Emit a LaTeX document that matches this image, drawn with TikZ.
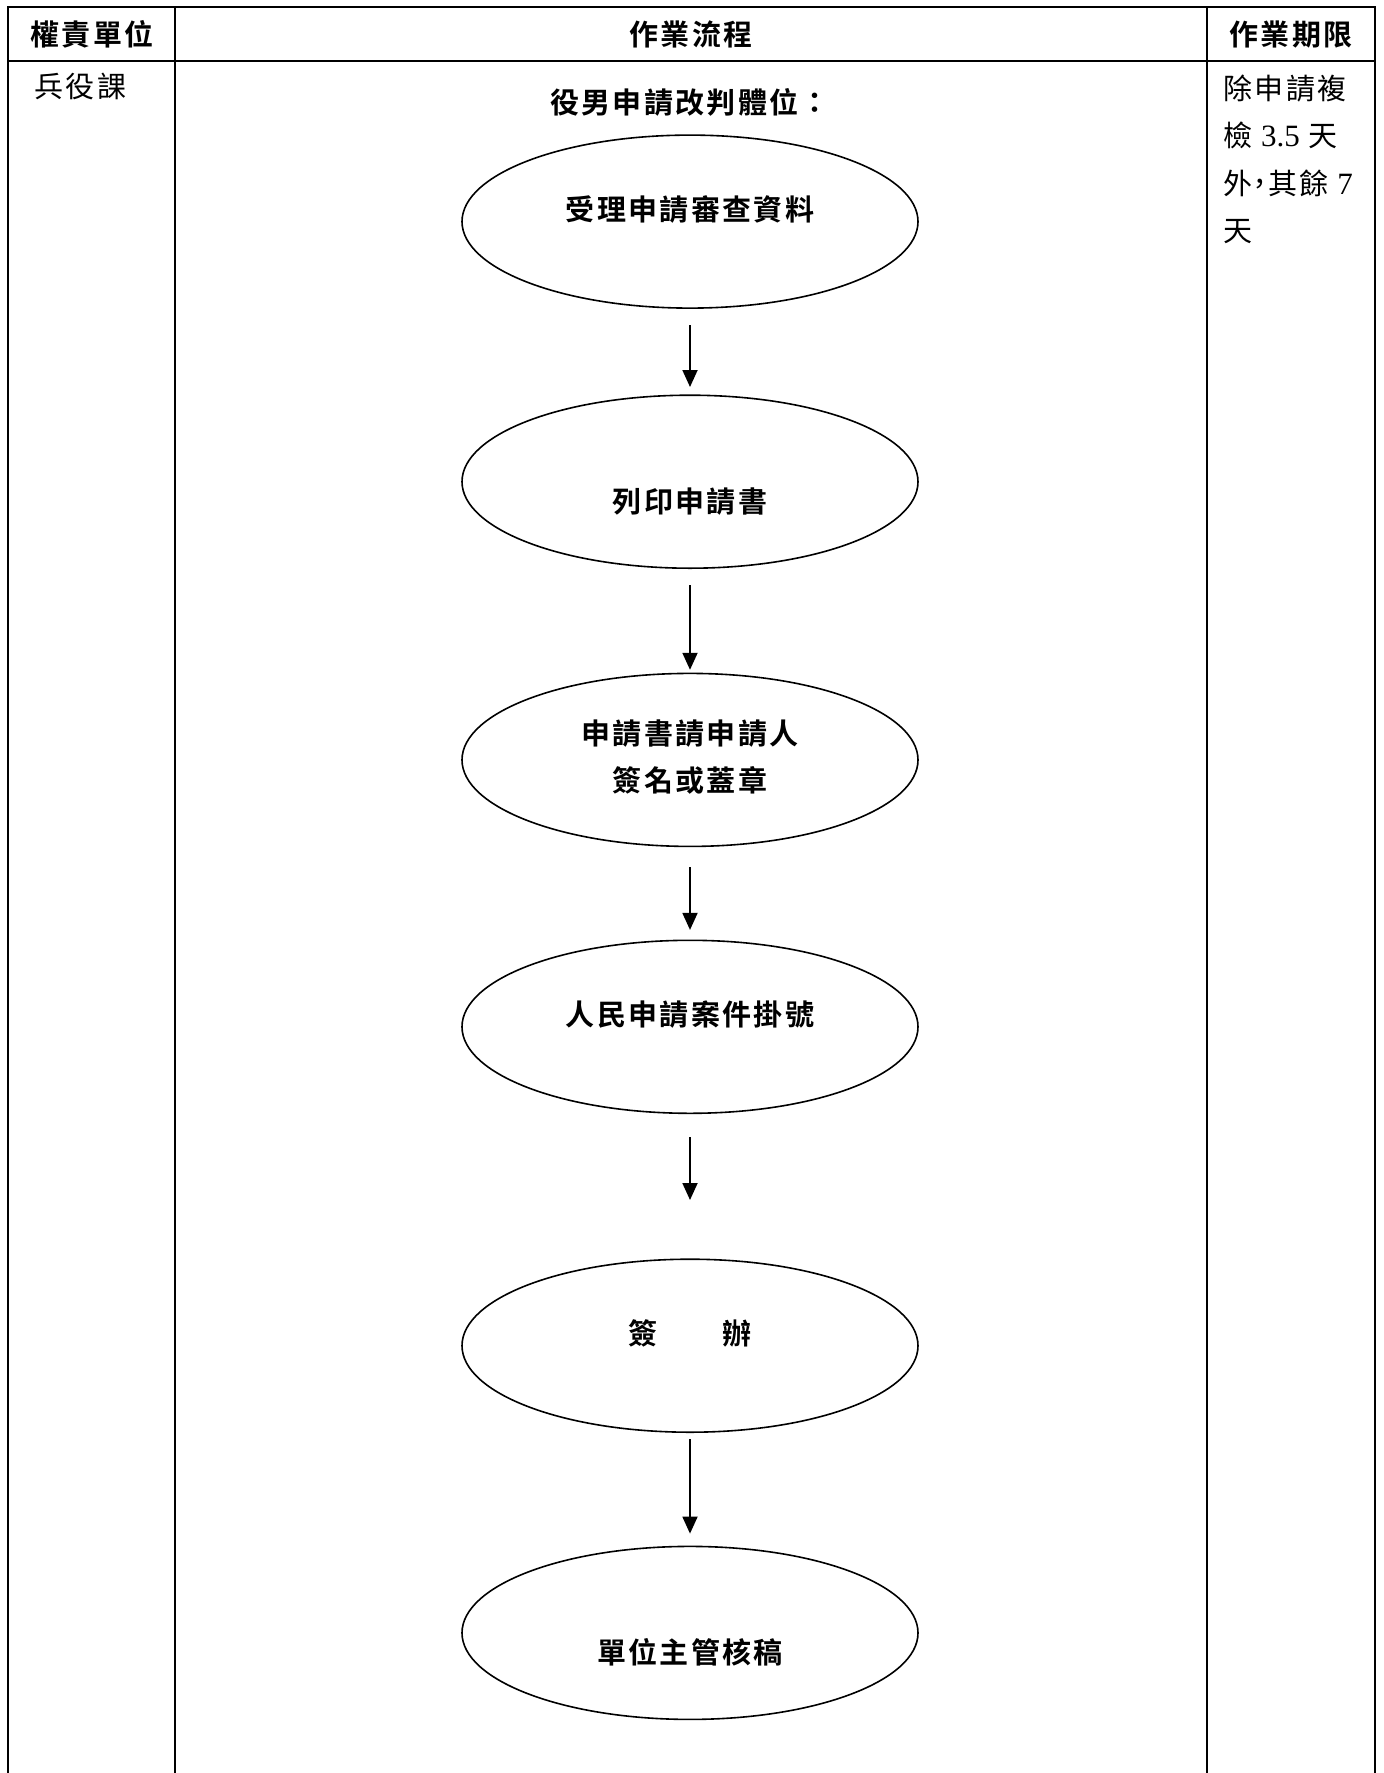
\documentclass[tikz,border=0pt]{standalone}
\usepackage{fontspec}
\usepackage{tikz}
\setmainfont{Liberation Serif}
\newfontfamily\cjk[LetterSpace=8]{Noto Sans CJK TC}
\newfontfamily\cjkb[LetterSpace=8]{Noto Sans CJK TC Bold}
\newcommand{\txtsize}{\fontsize{14.5pt}{23.75pt}\selectfont}
\usetikzlibrary{positioning,shapes.geometric,arrows.meta}
\tikzset{
  grid/.style={line width=1.1pt},
  oval/.style={draw, ellipse, line width=0.8pt, minimum width=228pt, minimum height=86.5pt, inner sep=0pt},
  lbl/.style={font=\cjkb\txtsize, inner sep=0pt, anchor=base},
  cell/.style={font=\cjk\txtsize, inner sep=0pt, anchor=base west},
  flow/.style={line width=0.9pt, -{Triangle[width=7.5pt,length=8.5pt]}},
}

\begin{document}
\begin{tikzpicture}[x=0.5pt,y=-0.5pt]
\useasboundingbox (0,0) rectangle (1383,1773);
% table
\draw[grid] (8,1773) -- (8,7) -- (1375,7) -- (1375,1773);
\draw[grid] (8,61) -- (1375,61);
\draw[grid] (175,7) -- (175,1773);
\draw[grid] (1207,7) -- (1207,1773);
\node[lbl] (hUnit) at (92,45) {權責單位};
\node[lbl] (hFlow) at (691,45) {作業流程};
\node[lbl] (hTime) at (1291,45) {作業期限};
\node[cell] (unit) at (34,97) {兵役課};
\node[cell] (time1) at (1223,99) {除申請複};
\node[cell] (time2) at (1223,146.5) {檢 {\rmfamily\fontsize{15.5pt}{18pt}\selectfont 3.5} 天};
\node[cell] (time3) at (1223,194) {外\makebox[0.55em][c]{，}其餘 {\rmfamily\fontsize{15.5pt}{18pt}\selectfont 7}};
\node[cell] (time4) at (1223,241.5) {天};
% flow
\node[lbl] (title) at (690,113) {役男申請改判體位：};
\node[oval] (e1) at (690,221.6) {};
\node[oval] (e2) at (690,481.7) {};
\node[oval] (e3) at (690,759.9) {};
\node[oval] (e4) at (690,1026.8) {};
\node[oval] (e5) at (690,1345.7) {};
\node[oval] (e6) at (690,1632.9) {};
\node[lbl] (t1) at (690,220) {受理申請審查資料};
\node[lbl] (t2) at (690,512) {列印申請書};
\node[lbl] (t3a) at (690,744) {申請書請申請人};
\node[lbl] (t3b) at (690,791) {簽名或蓋章};
\node[lbl] (t4) at (690,1025) {人民申請案件掛號};
\node[lbl] (t5) at (690,1344) {簽　　辦};
\node[lbl] (t6) at (690,1663) {單位主管核稿};
\draw[flow, shorten <=8.2pt, shorten >=3.7pt] (e1) -- (e2);
\draw[flow, shorten <=8.2pt, shorten >=1.4pt] (e2) -- (e3);
\draw[flow, shorten <=9.9pt, shorten >=4.8pt] (e3) -- (e4);
\draw[flow, shorten <=11.6pt, shorten >=29.2pt] (e4) -- (e5);
\draw[flow, shorten <=3.1pt, shorten >=6pt] (e5) -- (e6);
\end{tikzpicture}
\end{document}
